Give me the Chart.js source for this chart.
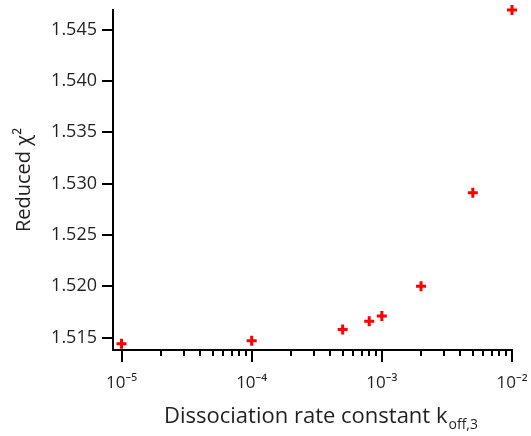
<!DOCTYPE html>
<html>
<head>
<meta charset="utf-8">
<script src="https://cdn.jsdelivr.net/npm/chart.js@4/dist/chart.umd.min.js"></script>
<style>
html,body{margin:0;padding:0;background:#fff;}
#c{display:block;}
</style>
</head>
<body>
<canvas id="c" width="531" height="436"></canvas>
<script>
// Data
const koff = [1e-5, 1e-4, 5e-4, 8e-4, 1e-3, 2e-3, 5e-3, 1e-2];
const chi2 = [1.5144, 1.5147, 1.5158, 1.5166, 1.5171, 1.5200, 1.5291, 1.5469];
const yTicks = [1.515, 1.520, 1.525, 1.530, 1.535, 1.540, 1.545];
const xDecades = [-5, -4, -3, -2];
const xTickLabels = ['10\u207B\u2075', '10\u207B\u2074', '10\u207B\u00B3', '10\u207B\u00B2'];
const yTitle = 'Reduced \u03C7\u00B2';
const xTitleMain = 'Dissociation rate constant k';
const xTitleSub = 'off,3';

const INK = '#231f20';
const FONT = "'Open Sans', 'Noto Sans', sans-serif";

// x ticks: 1..9 x 10^n for each decade, plus the last decade
const xTickValues = [];
for (let i = 0; i < xDecades.length; i++) {
  const d = xDecades[i];
  if (i === xDecades.length - 1) { xTickValues.push({value: Math.pow(10, d), major: true}); break; }
  for (let m = 1; m <= 9; m++) xTickValues.push({value: m * Math.pow(10, d), major: m === 1});
}

const tickPlugin = {
  id: 'customTicks',
  afterDraw(chart) {
    const ctx = chart.ctx;
    const xs = chart.scales.x, ys = chart.scales.y;
    const area = chart.chartArea;
    ctx.save();
    ctx.strokeStyle = '#000';
    ctx.lineWidth = 2;
    ctx.lineCap = 'butt';
    ctx.beginPath();
    xs.ticks.forEach(t => {
      const px = Math.round(xs.getPixelForValue(t.value)) ;
      const len = t.major ? 12 : 6;
      ctx.moveTo(px, area.bottom);
      ctx.lineTo(px, area.bottom + len);
    });
    ys.ticks.forEach(t => {
      const py = Math.round(ys.getPixelForValue(t.value));
      ctx.moveTo(area.left, py);
      ctx.lineTo(area.left - 11, py);
    });
    ctx.stroke();
    // x title with subscript
    ctx.fillStyle = INK;
    ctx.textBaseline = 'alphabetic';
    ctx.font = "22px " + FONT;
    const wMain = ctx.measureText(xTitleMain).width;
    ctx.font = "14px " + FONT;
    const wSub = ctx.measureText(xTitleSub).width;
    const total = wMain + wSub + 1;
    const cx = 321;
    const x0 = cx - total / 2;
    const base = 423;
    ctx.font = "22px " + FONT;
    ctx.textAlign = 'left';
    ctx.fillText(xTitleMain, x0, base);
    ctx.font = "14px " + FONT;
    ctx.fillText(xTitleSub, x0 + wMain + 1, base + 6);
    ctx.restore();
  }
};

new Chart(document.getElementById('c'), {
  type: 'scatter',
  data: {
    datasets: [{
      data: koff.map((x, i) => ({x: x, y: chi2[i]})),
      pointStyle: 'cross',
      radius: 5,
      hoverRadius: 5,
      borderWidth: 3,
      borderColor: '#ff0000',
      backgroundColor: '#ff0000',
      clip: false
    }]
  },
  options: {
    responsive: false,
    animation: false,
    events: [],
    layout: {padding: {left: 0, right: 19, top: 10, bottom: 0}},
    plugins: {legend: {display: false}, tooltip: {enabled: false}},
    scales: {
      x: {
        type: 'logarithmic',
        min: 8.6e-6,
        max: 1e-2,
        afterBuildTicks(scale) { scale.ticks = xTickValues.map(t => ({value: t.value, major: t.major})); },
        afterFit(scale) {
          scale.height = 86;
          scale.paddingLeft = 0; scale.paddingRight = 0;
        },
        grid: {drawOnChartArea: false, drawTicks: false},
        border: {display: true, color: '#000', width: 2},
        ticks: {
          autoSkip: false,
          maxRotation: 0,
          padding: 23,
          color: INK,
          font: {family: FONT, size: 17},
          callback(value) {
            const e = Math.round(Math.log10(value));
            if (Math.abs(value - Math.pow(10, e)) / value < 1e-6) {
              const idx = xDecades.indexOf(e);
              return idx >= 0 ? xTickLabels[idx] : '';
            }
            return '';
          }
        }
      },
      y: {
        type: 'linear',
        min: 1.5138,
        max: 1.5469,
        afterBuildTicks(scale) { scale.ticks = yTicks.map(v => ({value: v})); },
        afterFit(scale) {
          scale.width = 113;
          scale.paddingTop = 0; scale.paddingBottom = 0;
        },
        grid: {drawOnChartArea: false, drawTicks: false},
        border: {display: true, color: '#000', width: 2},
        ticks: {
          padding: 16,
          color: INK,
          font: {family: FONT, size: 18},
          callback(value) { return value.toFixed(3); }
        },
        title: {
          display: true,
          text: yTitle,
          color: INK,
          font: {family: FONT, size: 20},
          padding: {top: 12, bottom: 0}
        }
      }
    }
  },
  plugins: [tickPlugin]
});
</script>
</body>
</html>
